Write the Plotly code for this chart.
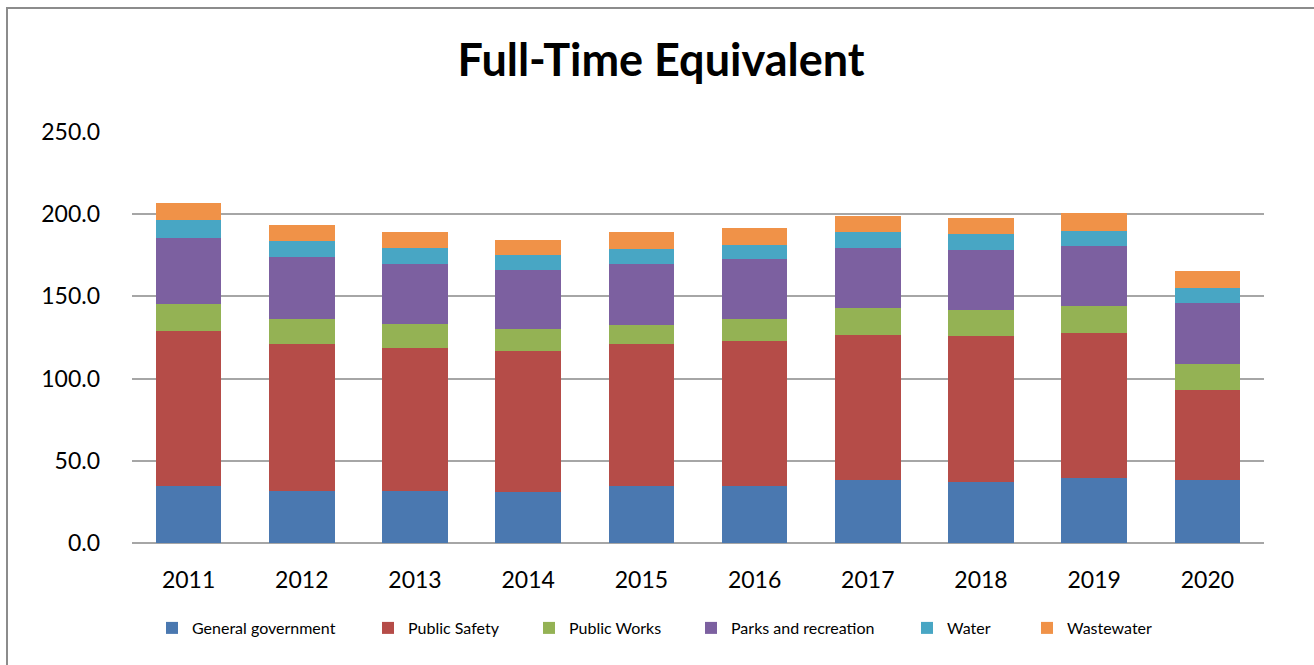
import plotly.graph_objects as go

years = ["2011", "2012", "2013", "2014", "2015", "2016", "2017", "2018", "2019", "2020"]
general_government = [34.7, 31.5, 31.5, 31.1, 34.5, 34.5, 38.6, 37.4, 39.6, 38.6]
public_safety = [94.5, 89.3, 87.2, 85.4, 86.4, 88.1, 88.2, 88.4, 88.2, 54.7]
public_works = [16.3, 15.4, 14.4, 13.6, 12.0, 13.6, 15.9, 16.0, 16.1, 15.8]
parks_recreation = [39.8, 37.7, 36.8, 36.1, 36.6, 36.4, 36.8, 36.6, 36.8, 36.8]
water = [11.3, 9.5, 9.4, 9.2, 9.2, 8.9, 9.5, 9.4, 9.1, 9.3]
wastewater = [10.1, 10.1, 10.1, 9.1, 10.3, 10.3, 10.1, 10.1, 10.8, 10.4]

series_names = ["General government", "Public Safety", "Public Works",
                "Parks and recreation", "Water", "Wastewater"]
series_values = [general_government, public_safety, public_works,
                 parks_recreation, water, wastewater]
series_colors = ["#4A78B0", "#B54C48", "#94B254", "#7C60A0", "#48A6C4", "#F09248"]

y_ticks = [0, 50, 100, 150, 200, 250]

W, H = 1314, 665
# target plot area in window pixels
PL, PR, PT, PB = 132, 1264, 132, 543
L = PL
R = W - PR
T = PT
B = H - PB
plot_w = PR - PL
plot_h = PB - PT


def px_x(p):
    return (p - PL) / plot_w


def px_y(p):
    return (PB - p) / plot_h


fig = go.Figure()
legend_text_x = [192, 408, 569, 731, 947, 1067]
legend_ids = ["legend", "legend2", "legend3", "legend4", "legend5", "legend6"]
for name, vals, col, lid in zip(series_names, series_values, series_colors, legend_ids):
    fig.add_trace(go.Bar(x=years, y=vals, name=name, marker_color=col,
                         marker_line_width=0, legend=lid))

font_family = "Lato, 'Open Sans', sans-serif"
layout_legends = {}
for lid, tx in zip(legend_ids, legend_text_x):
    layout_legends[lid] = dict(
        x=px_x(tx - 40), xanchor="left", xref="paper",
        y=px_y(628), yanchor="middle", yref="paper",
        orientation="h", bgcolor="rgba(0,0,0,0)",
        font=dict(family=font_family, size=16, color="#000000"),
        itemwidth=30,
    )

fig.update_layout(
    width=W, height=H,
    margin=dict(l=L, r=R, t=T, b=B, pad=0),
    paper_bgcolor="white", plot_bgcolor="white",
    barmode="stack", bargap=0.42,
    title=dict(text="<b>Full-Time Equivalent</b>", x=661 / W, xref="container",
               xanchor="center", y=1 - 60 / H, yref="container", yanchor="middle",
               font=dict(family=font_family, size=45, color="#000000")),
    font=dict(family=font_family, color="#000000"),
    showlegend=True,
    xaxis=dict(type="category", showgrid=False, zeroline=False, showline=False,
               ticks="", tickfont=dict(size=23, color="#000000"),
               ticklabelstandoff=21),
    yaxis=dict(range=[0, 250], tickvals=y_ticks, tickformat=".1f",
               showgrid=True, gridcolor="#A6A6A6", gridwidth=2,
               zeroline=True, zerolinecolor="#A6A6A6", zerolinewidth=2,
               showline=False, ticks="", tickfont=dict(size=23, color="#000000"),
               ticklabelstandoff=31),
    shapes=[dict(type="rect", xref="paper", yref="paper",
                 x0=px_x(7), x1=px_x(1330), y0=px_y(8), y1=px_y(700),
                 line=dict(color="#8C8C8C", width=2), fillcolor="rgba(0,0,0,0)",
                 layer="below")],
    **layout_legends,
)

fig.write_html("out.html",
               config={"displayModeBar": False},
               post_script="document.body.style.margin='0';document.body.style.overflow='hidden';")
